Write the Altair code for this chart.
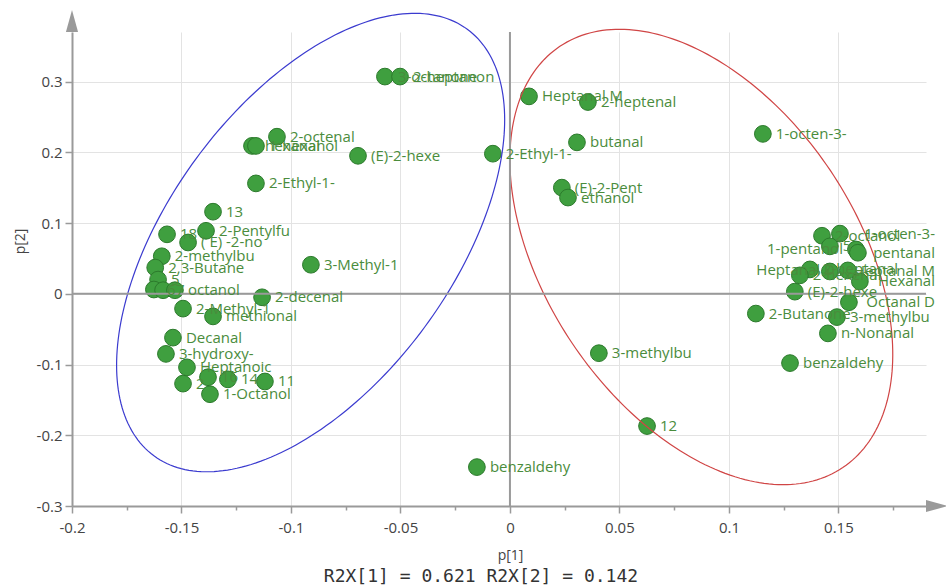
import altair as alt
import pandas as pd
import numpy as np

# ---------------- data (loadings p[1], p[2]) ----------------
names = [
    "3-octanone", "2-heptanon", "Heptanal M", "2-heptenal", "butanal", "2-Ethyl-1-",
    "(E)-2-Pent", "ethanol", "1-octen-3-", "12", "3-methylbu", "benzaldehy",
    "2-octenal", "hexanal", "1-hexanol", "(E)-2-hexe", "2-Ethyl-1-", "13",
    "2-Pentylfu", "18", "( E) -2-no", "2-methylbu", "2,3-Butane", "3-Methyl-1",
    "5", "6", "7", "octanol", "2-decenal", "2-Methyl-1", "methional", "Decanal",
    "3-hydroxy-", "Heptanoic", "16", "14", "11", "2", "1-Octanol",
    "2-octanol", "1-octen-3-", "5", "1-pentanol", "pentanal", "2-heptanal",
    "Heptanal M", "Heptanal D", "Hexanal", "2-hexenal", "(E)-2-hexe", "Octanal D",
    "3-methylbu", "n-Nonanal", "2-Butanone", "benzaldehy",
]
p1 = [
    -0.0571, -0.0502, 0.0087, 0.0356, 0.0306, -0.0078,
    0.0237, 0.0265, 0.1155, 0.0626, 0.0406, -0.0151,
    -0.1064, -0.1178, -0.1160, -0.0694, -0.1160, -0.1356,
    -0.1388, -0.1566, -0.1470, -0.1590, -0.1620, -0.0909,
    -0.1607, -0.1626, -0.1584, -0.1530, -0.1132, -0.1493, -0.1356, -0.1539,
    -0.1571, -0.1475, -0.1379, -0.1288, -0.1119, -0.1493, -0.1370,
    0.1425, 0.1507, 0.1461, 0.1580, 0.1589, 0.1370,
    0.1461, 0.1543, 0.1598, 0.1324, 0.1301, 0.1548,
    0.1493, 0.1452, 0.1123, 0.1279,
]
p2 = [
    0.307, 0.307, 0.279, 0.271, 0.214, 0.198,
    0.150, 0.136, 0.226, -0.187, -0.084, -0.245,
    0.222, 0.209, 0.209, 0.195, 0.156, 0.116,
    0.089, 0.084, 0.0725, 0.053, 0.037, 0.041,
    0.020, 0.006, 0.005, 0.005, -0.005, -0.021, -0.032, -0.062,
    -0.085, -0.104, -0.118, -0.121, -0.124, -0.127, -0.142,
    0.082, 0.085, 0.067, 0.0626, 0.058, 0.0344,
    0.0315, 0.033, 0.0174, 0.026, 0.003, -0.012,
    -0.033, -0.056, -0.028, -0.098,
]
# where each label sits: r = right of point, l = left of point, e = pushed to right edge
label_side = (["r"] * 40) + ["e", "r", "l", "e", "r", "e", "l", "e", "r", "r", "e", "r", "r", "r", "r"]

x_major = [-0.2, -0.15, -0.1, -0.05, 0, 0.05, 0.1, 0.15]
x_minor = [-0.175, -0.125, -0.075, -0.025, 0.025, 0.075, 0.125, 0.175]
y_major = [-0.3, -0.2, -0.1, 0, 0.1, 0.2, 0.3]
y_minor = [-0.25, -0.15, -0.05, 0.05, 0.15, 0.25, 0.35]

# Outline of the blue ellipse (p[1], p[2]); an ellipse is fitted to it
blue_outline_p1 = [-0.0973, -0.1324, -0.1507, -0.1621, -0.1676, -0.1749, -0.1781,
                   -0.1721, -0.0753, -0.0078, -0.0023, -0.0005, -0.0032,
                   -0.1347, -0.0365]
blue_outline_p2 = [0.3309, 0.2363, 0.1614, 0.1049, 0.0626, 0.0061, -0.0886,
                   -0.1493, -0.1493, 0.1431, 0.2603, 0.2320, 0.3027,
                   -0.2740, 0.3846]
# red ellipse: centre and two conjugate semi-axis vectors
red_center = (0.0874, 0.0520)
red_u = (-0.0646, 0.2977)
red_v = (-0.0589, -0.1223)

footer = "R2X[1] = 0.621 R2X[2] = 0.142"

# ---------------- layout / style ----------------
W, H = 854, 474
XDOM = [-0.2, 0.19]
YDOM = [-0.3, 0.37]
AXIS_GRAY = "#9a9a9a"
PT_FILL = "#3f9f3f"
PT_STROKE = "#2c7a2c"
LBL_COLOR = "#4a8c3c"
FONT = "Open Sans"

df = pd.DataFrame({"name": names, "p1": p1, "p2": p2, "side": label_side})

t = np.linspace(0, 2 * np.pi, 241)


def fit_ellipse(xv, yv, sx):
    """Direct least-squares ellipse fit (Fitzgibbon); x scaled by sx to be isotropic."""
    x = np.asarray(xv) * sx
    y = np.asarray(yv)
    D = np.column_stack([x * x, x * y, y * y, x, y, np.ones_like(x)])
    S = D.T @ D
    C = np.zeros((6, 6))
    C[0, 2] = C[2, 0] = 2
    C[1, 1] = -1
    w, v = np.linalg.eig(np.linalg.solve(S, C))
    v = v.real
    best = None
    for k in range(6):
        a = v[:, k]
        if 4 * a[0] * a[2] - a[1] ** 2 > 0:
            best = a
            break
    A, B, Cc, Dd, E, F = best
    c = np.linalg.solve([[2 * A, B], [B, 2 * Cc]], [-Dd, -E])
    Fc = A * c[0] ** 2 + B * c[0] * c[1] + Cc * c[1] ** 2 + Dd * c[0] + E * c[1] + F
    Q = np.array([[A, B / 2], [B / 2, Cc]]) / (-Fc)
    lam, V = np.linalg.eigh(Q)
    pts = c[:, None] + V @ np.vstack([np.cos(t) / np.sqrt(lam[0]), np.sin(t) / np.sqrt(lam[1])])
    return pts[0] / sx, pts[1]


bx, by = fit_ellipse(blue_outline_p1, blue_outline_p2, 2190 / 708)
rx = red_center[0] + red_u[0] * np.cos(t) + red_v[0] * np.sin(t)
ry = red_center[1] + red_u[1] * np.cos(t) + red_v[1] * np.sin(t)
edf = pd.concat([
    pd.DataFrame({"g": "blue", "i": np.arange(len(t)), "p1": bx, "p2": by}),
    pd.DataFrame({"g": "red", "i": np.arange(len(t)), "p1": rx, "p2": ry}),
])

xs = alt.Scale(domain=XDOM, nice=False, zero=False)
ys = alt.Scale(domain=YDOM, nice=False, zero=False)

xmaj = "abs(datum.value*20 - round(datum.value*20)) < 0.001"
ymaj = "abs(datum.value*10 - round(datum.value*10)) < 0.001"

x_axis = alt.Axis(
    values=sorted(x_major + x_minor),
    labelExpr=f"({xmaj}) ? replace(format(datum.value, '~g'), '\u2212', '-') : ''",
    tickSize={"condition": {"test": xmaj, "value": 7}, "value": 4},
    gridOpacity={"condition": {"test": xmaj, "value": 1}, "value": 0},
    grid=True, gridColor="#e3e3e3", gridWidth=1,
    domainColor=AXIS_GRAY, domainWidth=2, tickColor=AXIS_GRAY, tickWidth=1.5,
    labelFont=FONT, labelFontSize=15, labelColor="#444444", labelPadding=7,
    labelFlush=False, labelOverlap=False,
    title="p[1]", titleFont=FONT, titleFontSize=14, titleFontWeight="normal",
    titleColor="#444444", titleX=438, titleY=49, titleAlign="center", titleBaseline="middle",
)
y_axis = alt.Axis(
    values=sorted(y_major + y_minor),
    labelExpr=f"({ymaj}) ? replace(format(datum.value, '~g'), '\u2212', '-') : ''",
    tickSize={"condition": {"test": ymaj, "value": 7}, "value": 4},
    gridOpacity={"condition": {"test": ymaj, "value": 1}, "value": 0},
    grid=True, gridColor="#e3e3e3", gridWidth=1,
    domainColor=AXIS_GRAY, domainWidth=2, tickColor=AXIS_GRAY, tickWidth=1.5,
    labelFont=FONT, labelFontSize=15, labelColor="#444444", labelPadding=3,
    labelFlush=False, labelOverlap=False,
    title="p[2]", titleFont=FONT, titleFontSize=14, titleFontWeight="normal",
    titleColor="#444444", titleX=-52, titleY=209, titleAngle=270,
    titleAlign="center", titleBaseline="middle",
)

X = alt.X("p1:Q", scale=xs, axis=x_axis)
Y = alt.Y("p2:Q", scale=ys, axis=y_axis)

ellipses = alt.Chart(edf).mark_line(strokeWidth=1.2, clip=False).encode(
    x=X, y=Y,
    detail="g:N",
    order="i:Q",
    color=alt.Color("g:N", scale=alt.Scale(domain=["blue", "red"], range=["#3b3bcf", "#d04545"]), legend=None),
)

zero_v = alt.Chart(pd.DataFrame({"k": [0]})).mark_rule(color=AXIS_GRAY, strokeWidth=2).encode(
    x=alt.datum(0))
zero_h = alt.Chart(pd.DataFrame({"k": [0]})).mark_rule(color=AXIS_GRAY, strokeWidth=2).encode(
    y=alt.datum(0))

base = alt.Chart(df)
txt = dict(baseline="middle", font=FONT, fontSize=15, color=LBL_COLOR)
lab_r = base.transform_filter("datum.side == 'r'").mark_text(align="left", dx=13, **txt).encode(
    x=X, y=Y, text="name:N")
lab_l = base.transform_filter("datum.side == 'l'").mark_text(align="right", dx=-13, **txt).encode(
    x=X, y=Y, text="name:N")
lab_e = base.transform_filter("datum.side == 'e'").mark_text(align="right", **txt).encode(
    x=alt.value(W + 9), y=Y, text="name:N")

points = base.mark_circle(size=280, fill=PT_FILL, stroke=PT_STROKE, strokeWidth=1,
                          fillOpacity=1, opacity=1).encode(x=X, y=Y)

one = pd.DataFrame({"k": [0]})
arrow_up = alt.Chart(one).mark_point(shape="M-0.55,1L0,-1L0.55,1Z", filled=True, fill=AXIS_GRAY,
                                     strokeWidth=0, size=484, opacity=1).encode(
    x=alt.value(0), y=alt.value(-11))
arrow_right = alt.Chart(one).mark_point(shape="M-1,-0.55L1,0L-1,0.55Z", filled=True, fill=AXIS_GRAY,
                                        strokeWidth=0, size=484, opacity=1).encode(
    x=alt.value(W + 11), y=alt.value(H))

foot = alt.Chart(pd.DataFrame({"t": [footer]})).mark_text(
    font="DejaVu Sans Mono", fontSize=18, color="#333333", align="center", baseline="middle").encode(
    x=alt.value(409), y=alt.value(545), text="t:N")

chart = alt.layer(
    points, ellipses, zero_v, zero_h, lab_r, lab_l, lab_e, arrow_up, arrow_right, foot
).properties(
    width=W, height=H,
    padding={"left": 72, "top": 32, "right": 20, "bottom": 82},
    autosize=alt.AutoSizeParams(type="none"),
    background="white",
).configure_view(strokeOpacity=0)

chart.save("out.html", embed_options={"renderer": "svg", "actions": False})
